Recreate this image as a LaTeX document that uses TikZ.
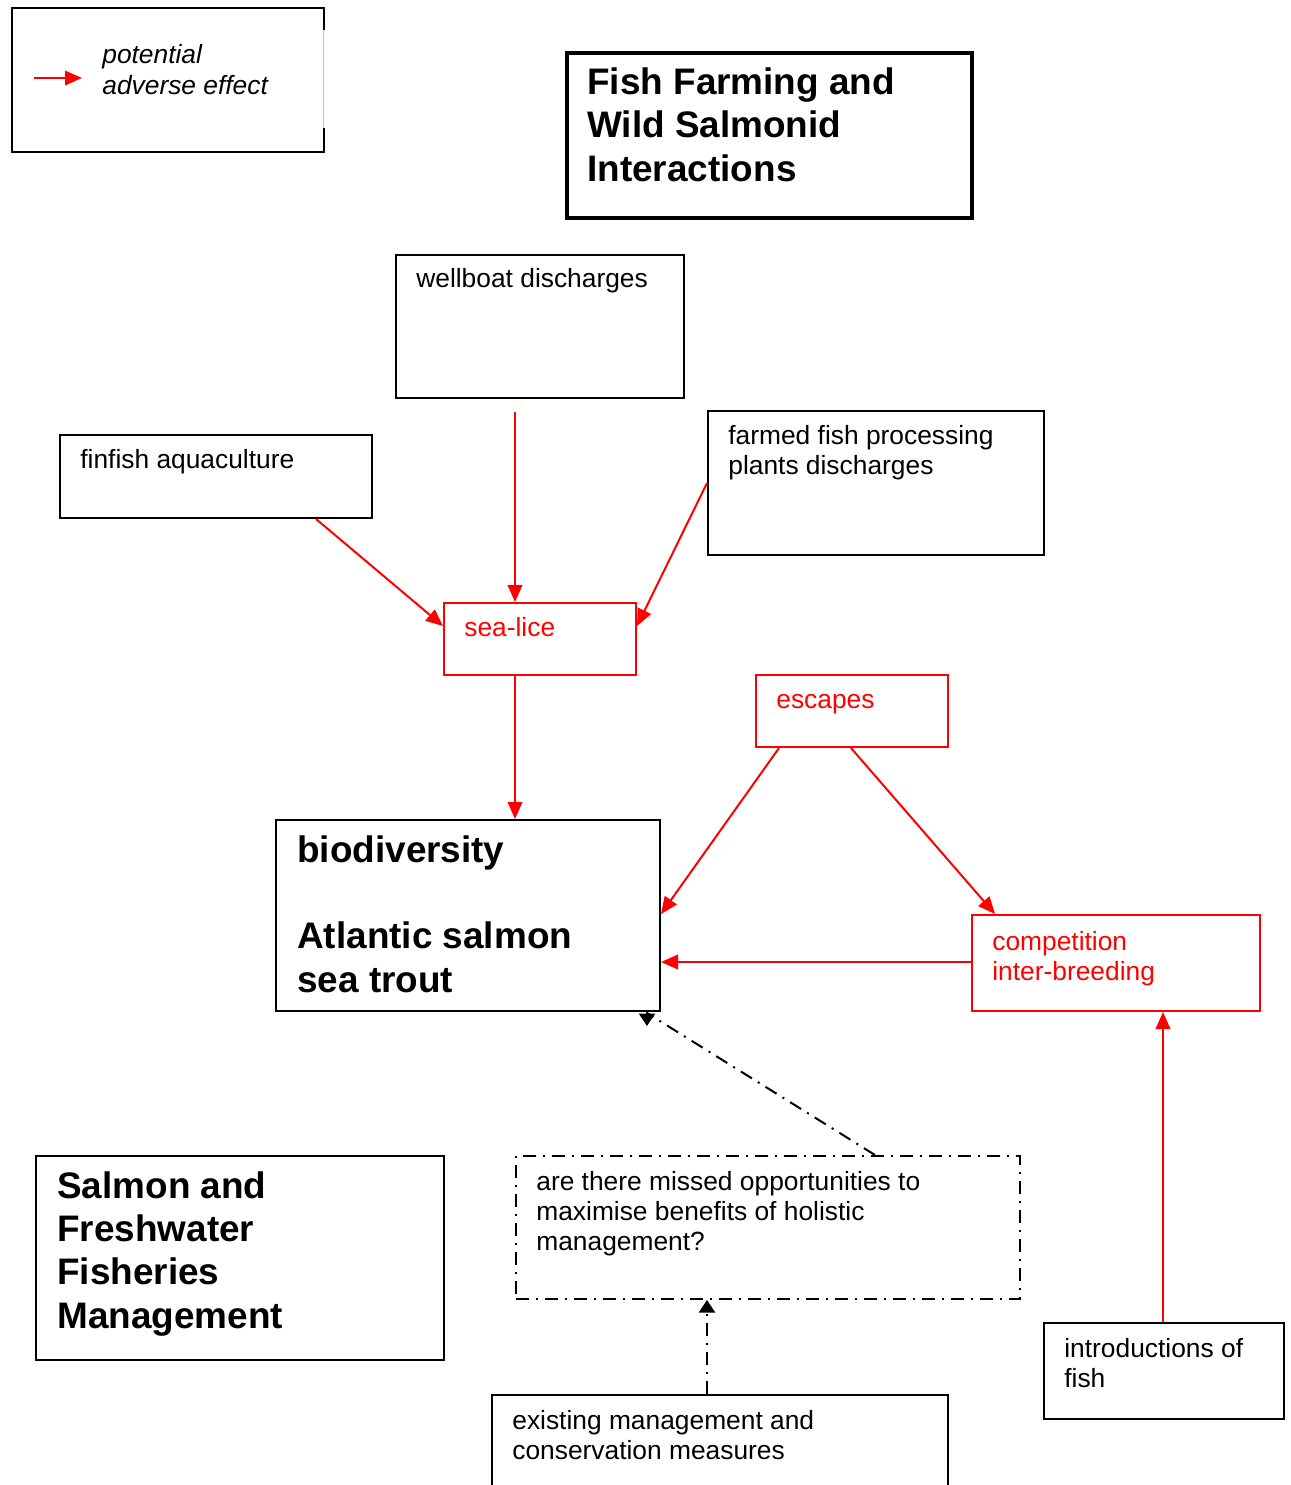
\documentclass[tikz,border=0pt]{standalone}
\usepackage{fontspec}
\setmainfont{Liberation Sans}
\usetikzlibrary{arrows.meta,calc}
\definecolor{effectred}{RGB}{255,0,0}

\tikzset{
  box/.style 2 args={draw, line width=0.4mm, anchor=north west, inner sep=0pt,
    minimum width=#1*0.2mm, minimum height=#2*0.2mm},
  redbox/.style 2 args={box={#1}{#2}, draw=effectred},
  % texts are placed by the baseline of their last line
  txt/.style={anchor=base west, align=left, inner sep=0pt,
    font=\fontsize{15}{17}\selectfont},
  bigtxt/.style={anchor=base west, align=left, inner sep=0pt,
    font=\fontsize{21}{24.5}\selectfont\bfseries},
  effect/.style={draw=effectred, line width=0.4mm,
    -{Triangle[length=3.4mm,width=2.9mm]}},
  dashdot/.style={line width=0.4mm,
    dash pattern=on 2.6mm off 1.4mm on 0.4mm off 1.4mm},
  link/.style={dashdot, -{Triangle[length=2.5mm,width=3.2mm]}}
}

\begin{document}
\begin{tikzpicture}[x=0.2mm, y=-0.2mm]
  \useasboundingbox (0,0) rectangle (1291,1485);

  % key
  \node[box={312}{144}] (key) at (11,7) {};
  \draw[white, line width=0.6mm] (323,30) -- (323,128);
  \draw[black!25, line width=0.15mm] (323,30) -- (323,128);
  \coordinate (key-a) at ($(key.north west)+(23,71)$);
  \coordinate (key-b) at ($(key.north west)+(71,71)$);
  \draw[effect] (key-a) -- (key-b);
  \node[txt, font=\fontsize{15}{17.5}\selectfont\itshape] (key-txt)
    at ($(key.north west)+(91,87)$) {potential\\adverse effect};

  % title
  \node[box={405}{165}, line width=0.8mm] (title) at (565,51) {};
  \node[bigtxt] (title-txt) at ($(title.north west)+(22,130)$)
    {Fish Farming and\\Wild Salmonid\\Interactions};

  % sources
  \node[box={288}{143}] (wellboat) at (395,254) {};
  \node[txt] (wellboat-txt) at ($(wellboat.north west)+(21,33)$) {wellboat discharges};
  \node[box={312}{83}] (finfish) at (59,434) {};
  \node[txt] (finfish-txt) at ($(finfish.north west)+(21,34)$) {finfish aquaculture};
  \node[box={336}{144}] (farmed) at (707,410) {};
  \node[txt] (farmed-txt) at ($(farmed.north west)+(21,64)$)
    {farmed fish processing\\plants discharges};

  % effects
  \node[redbox={192}{72}] (sealice) at (443,602) {};
  \node[txt, text=effectred] (sealice-txt) at ($(sealice.north west)+(21,34)$) {sea-lice};
  \node[redbox={192}{72}] (escapes) at (755,674) {};
  \node[txt, text=effectred] (escapes-txt) at ($(escapes.north west)+(21,34)$) {escapes};
  \node[redbox={288}{96}] (comp) at (971,914) {};
  \node[txt, text=effectred] (comp-txt) at ($(comp.north west)+(21,66)$)
    {competition\\inter-breeding};

  % receptors
  \node[box={384}{191}] (bio) at (275,819) {};
  \node[bigtxt] (bio-txt) at ($(bio.north west)+(22,173)$)
    {biodiversity\\[24.5pt]Atlantic salmon\\sea trout};
  \node[box={408}{204}] (salmon) at (35,1155) {};
  \node[bigtxt] (salmon-txt) at ($(salmon.north west)+(22,173)$)
    {Salmon and\\Freshwater\\Fisheries\\Management};

  % management
  \node[box={504}{143}, dashdot] (missed) at (515,1155) {};
  \node[txt] (missed-txt) at ($(missed.north west)+(21,95)$)
    {are there missed opportunities to\\maximise benefits of holistic\\management?};
  \node[box={456}{130}] (existing) at (491,1394) {};
  \node[txt] (existing-txt) at ($(existing.north west)+(21,65)$)
    {existing management and\\conservation measures};
  \node[box={240}{96}] (intro) at (1043,1322) {};
  \node[txt] (intro-txt) at ($(intro.north west)+(21,65)$)
    {introductions of\\fish};

  % adverse effects
  \draw[effect] ($(wellboat.south west)+(120,13)$) -- ($(sealice.north west)+(72,0)$);
  \draw[effect] ($(finfish.south west)+(257,0)$) -- ($(sealice.north west)+(0,24)$);
  \draw[effect] ($(farmed.north west)+(0,73)$) -- ($(sealice.north east)+(0,24)$);
  \draw[effect] ($(sealice.south west)+(72,0)$) -- ($(bio.north west)+(240,0)$);
  \draw[effect] ($(escapes.south west)+(24,0)$) -- ($(bio.north east)+(0,95)$);
  \draw[effect] ($(escapes.south west)+(96,0)$) -- ($(comp.north west)+(24,0)$);
  \draw[effect] ($(comp.north west)+(0,48)$) -- ($(bio.north east)+(0,143)$);
  \draw[effect] ($(intro.north west)+(120,0)$) -- ($(comp.south west)+(192,0)$);

  % management links
  \draw[link] ($(missed.north west)+(360,0)$) -- ($(bio.south east)+(-14,1)$)
    -- ($(bio.south east)+(-14,14)$);
  \draw[link] ($(existing.north west)+(216,0)$) -- ($(missed.south west)+(192,0)$);
\end{tikzpicture}
\end{document}
